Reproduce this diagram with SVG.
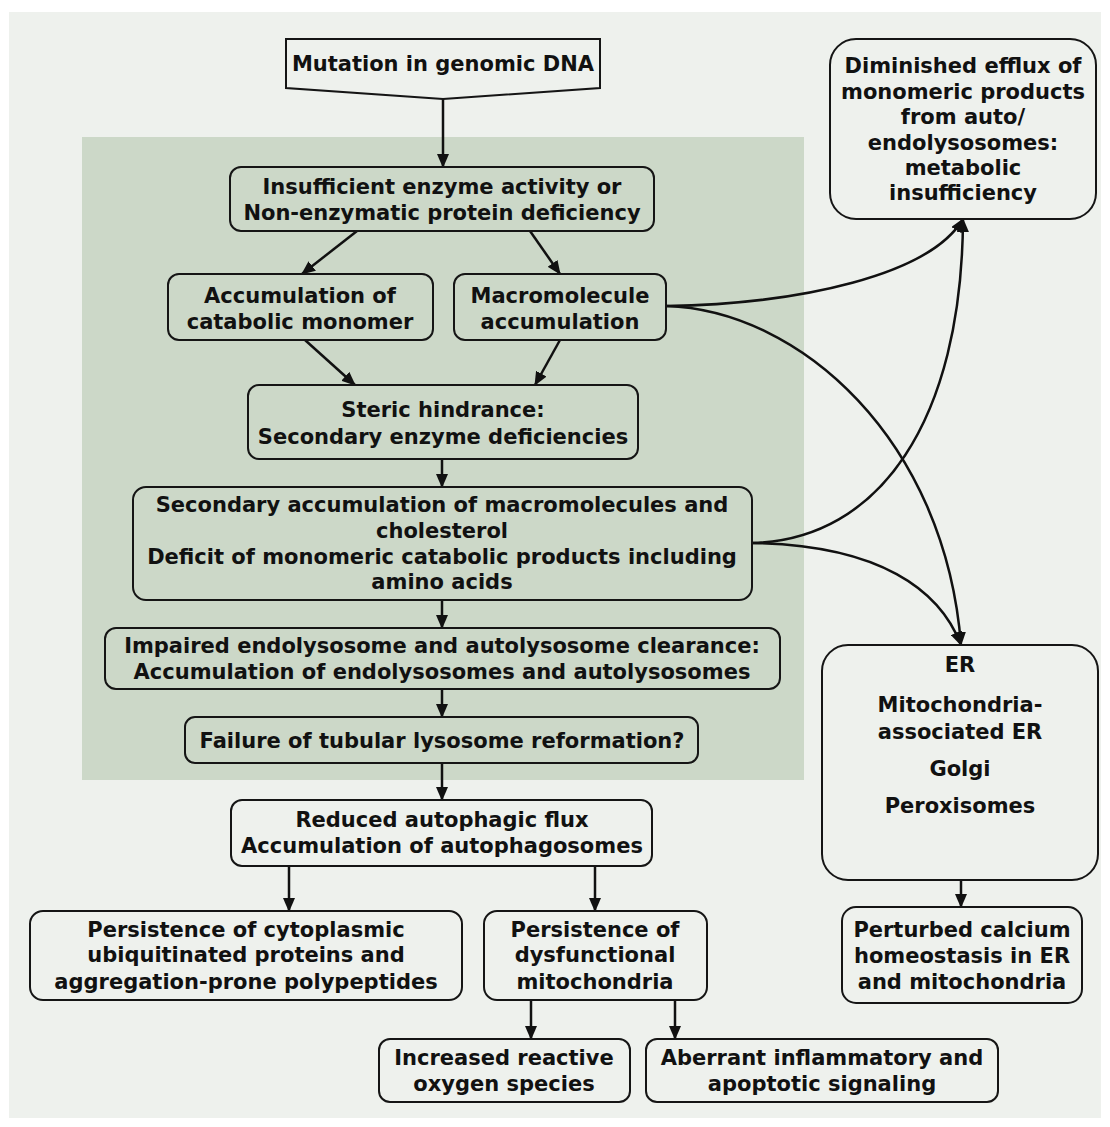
<svg xmlns="http://www.w3.org/2000/svg" width="1110" height="1127" viewBox="0 0 1110 1127">
<defs>
<style>
.box{fill:none;stroke:#151515;stroke-width:2}
.t{font-family:"DejaVu Sans",Verdana,sans-serif;font-weight:bold;font-size:21px;fill:#111;text-anchor:middle}
.c{fill:none;stroke:#111;stroke-width:2.5}
</style>
<marker id="ah" markerWidth="14" markerHeight="12" refX="13" refY="6" orient="auto" markerUnits="userSpaceOnUse">
<path d="M0,0 L14,6 L0,12 z" fill="#111"/>
</marker>
</defs>
<rect x="0" y="0" width="1110" height="1127" fill="#ffffff"/>
<rect x="9" y="12" width="1092" height="1106" fill="#eef1ed"/>
<rect x="82" y="137" width="722" height="643" fill="#ccd8c8"/>

<g id="connectors">
<line class="c" x1="443" y1="99" x2="443" y2="167" marker-end="url(#ah)"/>
<line class="c" x1="357" y1="231" x2="302" y2="274" marker-end="url(#ah)"/>
<line class="c" x1="530" y1="231" x2="560" y2="274" marker-end="url(#ah)"/>
<line class="c" x1="305" y1="340" x2="355" y2="385" marker-end="url(#ah)"/>
<line class="c" x1="560" y1="340" x2="535" y2="385" marker-end="url(#ah)"/>
<line class="c" x1="442" y1="459" x2="442" y2="487" marker-end="url(#ah)"/>
<line class="c" x1="442" y1="600" x2="442" y2="628" marker-end="url(#ah)"/>
<line class="c" x1="442" y1="689" x2="442" y2="717" marker-end="url(#ah)"/>
<line class="c" x1="442" y1="763" x2="442" y2="800" marker-end="url(#ah)"/>
<line class="c" x1="289" y1="866" x2="289" y2="911" marker-end="url(#ah)"/>
<line class="c" x1="595" y1="866" x2="595" y2="911" marker-end="url(#ah)"/>
<line class="c" x1="531" y1="1000" x2="531" y2="1039" marker-end="url(#ah)"/>
<line class="c" x1="675" y1="1000" x2="675" y2="1039" marker-end="url(#ah)"/>
<line class="c" x1="961" y1="880" x2="961" y2="907" marker-end="url(#ah)"/>
<path class="c" d="M666,306 C800,304 930,275 963,219" marker-end="url(#ah)"/>
<path class="c" d="M666,306 C800,310 945,440 961,645" marker-end="url(#ah)"/>
<path class="c" d="M752,543 C880,540 962,420 963,219" marker-end="url(#ah)"/>
<path class="c" d="M752,543 C880,545 940,590 961,645" marker-end="url(#ah)"/>
</g>

<g id="n-mutation">
<polygon class="box" points="286,39 600,39 600,88 443,99 286,88"/>
<text class="t" x="443" y="71">Mutation in genomic DNA</text>
</g>
<g id="n-insufficient">
<rect class="box" x="230" y="167" width="424" height="64" rx="11"/>
<text class="t" x="442" y="194">Insufficient enzyme activity or</text>
<text class="t" x="442" y="220">Non-enzymatic protein deficiency</text>
</g>
<g id="n-accumulation">
<rect class="box" x="168" y="274" width="265" height="66" rx="11"/>
<text class="t" x="300" y="303">Accumulation of</text>
<text class="t" x="300" y="329">catabolic monomer</text>
</g>
<g id="n-macromolecule">
<rect class="box" x="454" y="274" width="212" height="66" rx="11"/>
<text class="t" x="560" y="303">Macromolecule</text>
<text class="t" x="560" y="329">accumulation</text>
</g>
<g id="n-steric">
<rect class="box" x="248" y="385" width="390" height="74" rx="11"/>
<text class="t" x="443" y="417">Steric hindrance:</text>
<text class="t" x="443" y="444">Secondary enzyme deficiencies</text>
</g>
<g id="n-secondary">
<rect class="box" x="133" y="487" width="619" height="113" rx="13"/>
<text class="t" x="442" y="512">Secondary accumulation of macromolecules and</text>
<text class="t" x="442" y="538">cholesterol</text>
<text class="t" x="442" y="564">Deficit of monomeric catabolic products including</text>
<text class="t" x="442" y="589">amino acids</text>
</g>
<g id="n-impaired">
<rect class="box" x="105" y="628" width="675" height="61" rx="11"/>
<text class="t" x="442" y="653">Impaired endolysosome and autolysosome clearance:</text>
<text class="t" x="442" y="679">Accumulation of endolysosomes and autolysosomes</text>
</g>
<g id="n-failure">
<rect class="box" x="185" y="717" width="513" height="46" rx="10"/>
<text class="t" x="442" y="748">Failure of tubular lysosome reformation?</text>
</g>
<g id="n-reduced">
<rect class="box" x="231" y="800" width="421" height="66" rx="11"/>
<text class="t" x="442" y="827">Reduced autophagic flux</text>
<text class="t" x="442" y="853">Accumulation of autophagosomes</text>
</g>
<g id="n-cytoplasmic">
<rect class="box" x="30" y="911" width="432" height="89" rx="13"/>
<text class="t" x="246" y="937">Persistence of cytoplasmic</text>
<text class="t" x="246" y="962">ubiquitinated proteins and</text>
<text class="t" x="246" y="989">aggregation-prone polypeptides</text>
</g>
<g id="n-dysfunctional">
<rect class="box" x="484" y="911" width="223" height="89" rx="13"/>
<text class="t" x="595" y="937">Persistence of</text>
<text class="t" x="595" y="962">dysfunctional</text>
<text class="t" x="595" y="989">mitochondria</text>
</g>
<g id="n-ros">
<rect class="box" x="379" y="1039" width="251" height="63" rx="11"/>
<text class="t" x="504" y="1065">Increased reactive</text>
<text class="t" x="504" y="1091">oxygen species</text>
</g>
<g id="n-aberrant">
<rect class="box" x="646" y="1039" width="352" height="63" rx="11"/>
<text class="t" x="822" y="1065">Aberrant inflammatory and</text>
<text class="t" x="822" y="1091">apoptotic signaling</text>
</g>
<g id="n-diminished">
<rect class="box" x="830" y="39" width="266" height="180" rx="26"/>
<text class="t" x="963" y="73">Diminished efflux of</text>
<text class="t" x="963" y="99">monomeric products</text>
<text class="t" x="963" y="124">from auto/</text>
<text class="t" x="963" y="150">endolysosomes:</text>
<text class="t" x="963" y="175">metabolic</text>
<text class="t" x="963" y="200">insufficiency</text>
</g>
<g id="n-er">
<rect class="box" x="822" y="645" width="276" height="235" rx="26"/>
<text class="t" x="960" y="672">ER</text>
<text class="t" x="960" y="712">Mitochondria-</text>
<text class="t" x="960" y="739">associated ER</text>
<text class="t" x="960" y="776">Golgi</text>
<text class="t" x="960" y="813">Peroxisomes</text>
</g>
<g id="n-calcium">
<rect class="box" x="842" y="907" width="240" height="96" rx="14"/>
<text class="t" x="962" y="937">Perturbed calcium</text>
<text class="t" x="962" y="963">homeostasis in ER</text>
<text class="t" x="962" y="989">and mitochondria</text>
</g>
</svg>
